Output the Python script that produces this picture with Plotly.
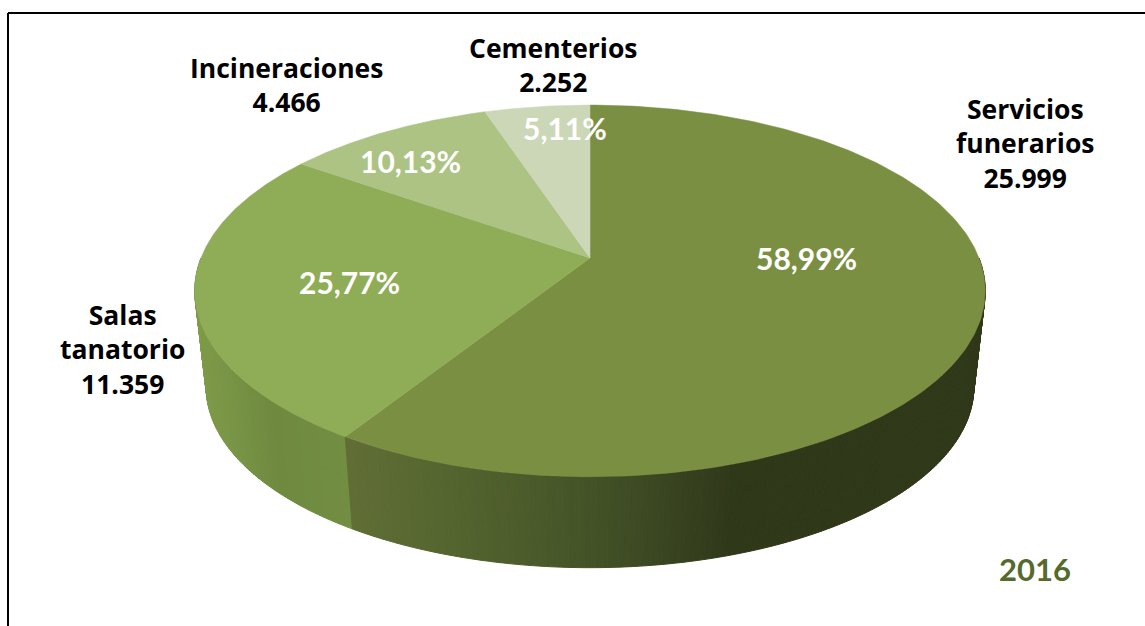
import numpy as np
import plotly.graph_objects as go

# Data
categories = ["Servicios funerarios", "Salas tanatorio", "Incineraciones", "Cementerios"]
label_lines = ["Servicios<br>funerarios", "Salas<br>tanatorio", "Incineraciones", "Cementerios"]
values = [25999, 11359, 4466, 2252]
year = "2016"

# Styles
top_colors = ["#7b8f42", "#8fad56", "#adc383", "#cbd7b6"]
wall_stops = [
    [(345, "#616f36"), (450, "#55652f"), (590, "#445327"), (730, "#30381a"), (990, "#30381a")],
    [(200, "#7f9c49"), (280, "#6f8a3f"), (352, "#728e42")],
]
label_pos = [(1025, 143), (122, 349), (286, 85), (553, 65)]
pct_pos = [(806, 258), (349, 282), (410, 161), (565, 128)]
LABEL_FONT = "Open Sans"
FONT = "Lato"

# Projection of the pie disc into the picture (perspective view)
CX, CY, A, B, K = 590.0, 258.0, 389.0, 180.0, 0.177
LOW_CY, LOW_S = 355.3, 0.971


def project(theta, cy=CY, s=1.0):
    u, v = np.sin(theta), np.cos(theta)
    d = 1 + K * v
    return CX + s * A * u / d, cy - s * B * v / d


def hex_rgb(c):
    return np.array([int(c[i:i + 2], 16) for i in (1, 3, 5)], float)


def wall_color(stops, x):
    xs = [p[0] for p in stops]
    rgb = np.array([hex_rgb(p[1]) for p in stops])
    c = [np.interp(x, xs, rgb[:, i]) for i in range(3)]
    return "rgb(%d,%d,%d)" % tuple(round(float(t)) for t in c)


total = sum(values)
edges = np.concatenate([[0], np.cumsum(values)]) / total * 2 * np.pi
fig = go.Figure()

# Side wall, drawn as narrow strips to carry the gradient
for i in (1, 0):
    start = max(edges[i], np.pi / 2)
    stop = min(edges[i + 1], 3 * np.pi / 2)
    n = max(2, int((stop - start) / 0.012))
    bounds = np.linspace(start, stop, n + 1)
    for a, b in zip(bounds[:-1], bounds[1:]):
        t = np.linspace(a, b, 3)
        xt, yt = project(t)
        xb, yb = project(t, LOW_CY, LOW_S)
        col = wall_color(wall_stops[i], float(np.mean(xb)))
        fig.add_trace(go.Scatter(
            x=np.concatenate([xt, xb[::-1], xt[:1]]),
            y=np.concatenate([yt, yb[::-1], yt[:1]]),
            mode="lines", fill="toself", fillcolor=col,
            line=dict(color=col, width=1), hoverinfo="skip", showlegend=False))

# Top face
for i, name in enumerate(categories):
    t = np.linspace(edges[i], edges[i + 1], 240)
    xs, ys = project(t)
    fig.add_trace(go.Scatter(
        x=np.concatenate([[CX], xs, [CX]]), y=np.concatenate([[CY], ys, [CY]]),
        mode="lines", fill="toself", fillcolor=top_colors[i], name=name,
        line=dict(color=top_colors[i], width=0.5), showlegend=False))

# Labels
for i in range(len(values)):
    txt = label_lines[i] + "<br>" + f"{values[i]:,}".replace(",", ".")
    fig.add_annotation(x=label_pos[i][0], y=label_pos[i][1], text="<b>%s</b>" % txt,
                       showarrow=False, font=dict(family=LABEL_FONT, size=26.5, color="#000000"))
    pct = f"{values[i] / total * 100:.2f}%".replace(".", ",")
    fig.add_annotation(x=pct_pos[i][0], y=pct_pos[i][1], text="<b>%s</b>" % pct,
                       showarrow=False, font=dict(family=FONT, size=30, color="#ffffff"))
fig.add_annotation(x=1035, y=569, text="<b>%s</b>" % year, showarrow=False,
                   font=dict(family=FONT, size=31, color="#556a2b"))

# Frame (left and top edges)
fig.add_shape(type="line", x0=8, x1=8, y0=13, y1=626, line=dict(color="#000000", width=2))
fig.add_shape(type="line", x0=8, x1=1145, y0=13, y1=13, line=dict(color="#000000", width=2))

fig.update_layout(
    width=1145, height=626, margin=dict(l=0, r=0, t=0, b=0),
    paper_bgcolor="#ffffff", plot_bgcolor="#ffffff", showlegend=False,
    xaxis=dict(range=[0, 1145], visible=False),
    yaxis=dict(range=[626, 0], visible=False),
)
fig.write_html("out.html", post_script="document.body.style.margin='0';", config={"displayModeBar": False})
